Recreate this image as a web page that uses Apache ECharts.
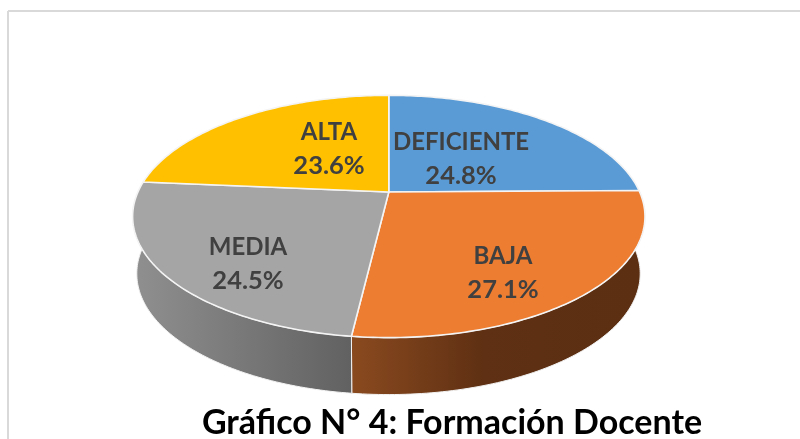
<!DOCTYPE html>
<html>
<head>
<meta charset="utf-8">
<title>Gráfico N° 4: Formación Docente</title>
<script src="https://cdn.jsdelivr.net/npm/echarts@6/dist/echarts.min.js"></script>
<style>
  html, body { margin: 0; background: #fff; }
  #chart { width: 800px; height: 439px; }
</style>
</head>
<body>
<div id="chart"></div>
<script>
// datos del gráfico
const categories = ['DEFICIENTE', 'BAJA', 'MEDIA', 'ALTA']
const shares = [24.8, 27.1, 24.5, 23.6]

const faceColors = ['#5b9bd5', '#ed7d31', '#a5a5a5', '#ffc000']
const wallColors = [
  null,
  [[0, '#8a4a1f'], [0.45, '#5f3013'], [1, '#5c2f12']],
  [[0, '#909090'], [1, '#616161']],
  null
]
const labelSpots = [[461, 159], [503, 273], [248, 264], [329, 149]]

// disco en perspectiva: el centro no cae en el centro de la elipse
const top3d = { cx: 388.8, cy: 192, a: 250.9, b: 116.2, k: 0.202 }
const bottom3d = { cx: 388.5, cy: 249.2, a: 246.5, b: 116, k: 0.202 }

const project = (disc, deg) => {
  const t = (deg * Math.PI) / 180
  const u = Math.sin(t)
  const v = Math.cos(t)
  const w = 1 + disc.k * v
  return [disc.cx + (disc.a * u) / w, disc.cy - (disc.b * v) / w]
}

const arc = (disc, from, to) => {
  const pts = []
  const steps = Math.ceil(Math.abs(to - from))
  for (let i = 0; i <= steps; i++) {
    pts.push(project(disc, from + ((to - from) * i) / steps))
  }
  return pts
}

// ángulos de cada porción a partir de los valores
const total = shares.reduce((s, v) => s + v, 0)
const sliceAngles = (index, value) => {
  const before = shares.slice(0, index).reduce((s, v) => s + v, 0)
  const from = (before / total) * 360
  return [from, from + (value / total) * 360]
}

const renderWall = (params, api) => {
  const stops = wallColors[params.dataIndex]
  if (!stops) return null
  const [from, to] = sliceAngles(params.dataIndex, api.value(0))
  return {
    type: 'polygon',
    shape: { points: arc(top3d, from, to).concat(arc(bottom3d, to, from)) },
    style: {
      fill: new echarts.graphic.LinearGradient(
        0, 0, 1, 0,
        stops.map(([offset, color]) => ({ offset, color }))
      ),
      stroke: '#f2f2f2',
      lineWidth: 1
    }
  }
}

const renderFace = (params, api) => {
  const i = params.dataIndex
  const value = api.value(0)
  const [from, to] = sliceAngles(i, value)
  return {
    type: 'group',
    children: [
      {
        type: 'polygon',
        shape: { points: [[top3d.cx, top3d.cy]].concat(arc(top3d, from, to)) },
        style: { fill: faceColors[i], stroke: '#f4f4f4', lineWidth: 1.6, lineJoin: 'round' }
      },
      {
        type: 'text',
        z2: 10,
        x: labelSpots[i][0],
        y: labelSpots[i][1],
        style: {
          text: '{name|' + categories[i] + '}\n{pct|' + value.toFixed(1) + '%}',
          align: 'center',
          verticalAlign: 'middle',
          rich: {
            name: { fill: '#404040', font: 'bold 24px Lato', lineHeight: 33, align: 'center' },
            pct: { fill: '#404040', font: 'bold 25.5px Lato', lineHeight: 33, align: 'center' }
          }
        }
      }
    ]
  }
}

const chartData = shares.map((value) => [value])

const myChart = echarts.init(document.getElementById('chart'))
myChart.setOption({
  animation: false,
  backgroundColor: '#fff',
  title: {
    text: 'Gráfico N° 4: Formación Docente',
    left: 447,
    top: 401,
    textAlign: 'center',
    textStyle: { fontFamily: 'Lato', fontWeight: 'bold', fontSize: 34, color: '#000' }
  },
  graphic: [
    { type: 'line', shape: { x1: 8, y1: 11, x2: 800, y2: 11 }, style: { stroke: '#d9d9d9', lineWidth: 2 } },
    { type: 'line', shape: { x1: 8, y1: 11, x2: 8, y2: 439 }, style: { stroke: '#d9d9d9', lineWidth: 2 } }
  ],
  series: [
    { type: 'custom', coordinateSystem: 'none', z: 2, renderItem: renderWall, data: chartData },
    { type: 'custom', coordinateSystem: 'none', z: 3, renderItem: renderFace, data: chartData }
  ]
})
</script>
</body>
</html>
